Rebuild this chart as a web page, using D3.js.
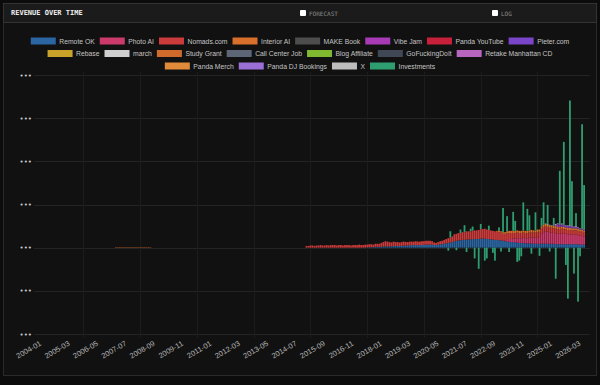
<!DOCTYPE html>
<html>
<head>
<meta charset="utf-8">
<script src="https://cdn.jsdelivr.net/npm/d3@7/dist/d3.min.js"></script>
<style>
  html, body { margin: 0; padding: 0; background: #0c0c0c; }
  svg { display: block; }
</style>
</head>
<body>
<div id="chart"></div>
<script>
// x axis runs monthly over this span
const firstMonth = '2004-01';
const lastMonth = '2026-05';
const tickLabels = ['2004-01', '2005-03', '2006-05', '2007-07', '2008-09', '2009-11', '2011-01', '2012-03',
  '2013-05', '2014-07', '2015-09', '2016-11', '2018-01', '2019-03', '2020-05', '2021-07', '2022-09',
  '2023-11', '2025-01', '2026-03'];
const yTicks = [-200, -100, 0, 100, 200, 300, 400];
const yLabel = '•••';

const seriesNames = ['Remote OK', 'Photo AI', 'Nomads.com', 'Interior AI', 'MAKE Book', 'Vibe Jam', 'Panda YouTube',
  'Pieter.com', 'Rebase', 'march', 'Study Grant', 'Call Center Job', 'Blog Affiliate', 'GoFuckingDoIt',
  'Retake Manhattan CD', 'Panda Merch', 'Panda DJ Bookings', 'X', 'Investments'];
const seriesColors = ['#2b66a2', '#cc3a6c', '#cc3b3b', '#d8702c', '#4d4d4d', '#a83ab5', '#c8203a', '#7a45c8',
  '#c9a22a', '#cfcfcf', '#d06a2c', '#5c6677', '#80b92f', '#3f4854', '#b865c0', '#e08a3a', '#9b6fd6',
  '#bdbdbd', '#2e9e70'];

// monthly values, each list begins at the month given in seriesStart
const remoteOK = [
  1, 1, 1, 1, 2, 2, 2,
  2, 3, 3, 3, 3, 3, 4, 4, 4, 4, 4, 5,
  5, 5, 5, 6, 6, 6, 6, 6, 6, 7, 7, 7,
  7, 7, 6, 6, 7, 8, 8, 9, 10, 11, 12, 13,
  15, 16, 17, 17, 18, 18, 19, 19, 19, 20, 20, 20,
  20, 21, 21, 21, 20, 20, 19, 19, 18, 18, 17, 17,
  16, 15, 14, 14, 13, 13, 12, 12, 11, 11, 11, 10,
  10, 10, 10, 9, 9, 9, 9, 9, 9, 9, 9, 9,
  9, 9, 8, 8, 8, 8, 8, 8, 8, 8, 8, 8,
  8, 8, 7, 7, 7];
const photoAI = [
  2, 4, 6, 7, 8, 9, 10, 11, 11, 12, 12,
  12, 13, 13, 14, 14, 15, 16, 24, 27, 28, 28, 27,
  26, 25, 25, 24, 24, 25, 24, 24, 23, 23, 22, 22,
  22, 21, 21, 20, 19];
const nomads = [
  4,
  4, 5, 5, 4, 5, 5, 6, 5, 5, 6, 5, 6,
  6, 6, 5, 6, 6, 5, 6, 6, 6, 5, 6, 6,
  6, 7, 6, 6, 7, 6, 7, 7, 6, 7, 7, 7,
  9, 10, 12, 11, 10, 9, 10, 9, 9, 8, 9, 9,
  8, 8, 9, 8, 8, 9, 8, 8, 9, 8, 9, 9,
  9, 8, 6, 5, 6, 7, 8, 9, 10, 11, 12, 13,
  16, 16, 17, 17, 18, 18, 19, 19, 19, 20, 20, 20,
  21, 22, 22, 23, 22, 21, 21, 20, 20, 19, 19, 18,
  16, 15, 15, 14, 14, 13, 13, 13, 12, 12, 12, 12,
  12, 12, 12, 12, 12, 12, 12, 11, 12, 12, 11, 11,
  11, 11, 11, 11, 10, 11, 11, 10, 10, 10, 10, 10,
  10, 10, 9, 10, 9];
const interiorAI = [
  2, 3, 3,
  4, 4, 5, 5, 5, 5, 5, 5, 5, 5, 5, 5,
  5, 5, 6, 5, 5, 6, 5, 5, 5, 6, 5, 5,
  5, 5, 6, 5, 5, 5, 5, 5, 5, 5, 5, 5,
  5, 5, 5, 5, 4];
const vibeJam = [3, 6, 4, 2];
const pieterCom = [2, 3, 3, 4, 4, 5, 4, 4, 3, 3, 3, 2, 2, 3];
const studyGrant = [1, 1, 1, 1, 1, 1, 1, 1, 1, 1, 1, 1, 1, 1, 1, 1, 1, 1];
const xCom = [1, 1, 2, 1, 1, 1, 2, 1, 1, 2, 1, 1, 1, 2, 1, 1, 2, 1, 1, 1, 1];
const investments = [
  -7, 14, 0, 0, -6, 0, 8, 0, 16, -10, 0, 6,
  9, -25, 0, -49, 12, 0, -30, -25, 10, 0, -12, -30,
  0, 8, -9, 56, 0, 35, -10, 0, 44, 23, -33, -30,
  -20, 65, 0, 51, 35, -14, 0, 42, 0, -19, 20, 51,
  0, 44, -9, 0, 18, -72, 0, 123, 0, 192, -40, -118,
  289, 104, -60, 30, -125, -20, 241, 102];

const seriesData = {
  'Remote OK': remoteOK, 'Photo AI': photoAI, 'Nomads.com': nomads, 'Interior AI': interiorAI,
  'Vibe Jam': vibeJam, 'Pieter.com': pieterCom, 'Study Grant': studyGrant, 'X': xCom, 'Investments': investments
};
const seriesStart = {
  'Remote OK': '2017-06', 'Photo AI': '2023-02', 'Nomads.com': '2014-12', 'Interior AI': '2022-10',
  'Vibe Jam': '2025-03', 'Pieter.com': '2025-04', 'Study Grant': '2007-02', 'X': '2024-09', 'Investments': '2020-10'
};

const W = 600, H = 385;
const svg = d3.select('#chart').append('svg').attr('width', W).attr('height', H);

// panel + header
svg.append('rect').attr('x', 3.5).attr('y', 3.5).attr('width', 593).attr('height', 372)
  .attr('fill', '#111').attr('stroke', '#2a2a2a');
svg.append('rect').attr('x', 3.5).attr('y', 3.5).attr('width', 593).attr('height', 19)
  .attr('fill', '#1b1b1b').attr('stroke', '#333');
svg.append('text').attr('x', 11).attr('y', 15).text('REVENUE OVER TIME')
  .attr('fill', '#f0f0f0').style('font', 'bold 7px "DejaVu Sans Mono", monospace');
[[300, 'FORECAST'], [492, 'LOG']].forEach(([x, t]) => {
  svg.append('rect').attr('x', x).attr('y', 10).attr('width', 6).attr('height', 6).attr('rx', 1).attr('fill', '#fff');
  svg.append('text').attr('x', x + 9).attr('y', 15.5).text(t)
    .attr('fill', '#8a8a8a').style('font', '6px "DejaVu Sans Mono", monospace');
});

// build monthly table
const parse = d3.timeParse('%Y-%m'), fmt = d3.timeFormat('%Y-%m');
const months = d3.timeMonth.range(parse(firstMonth), d3.timeMonth.offset(parse(lastMonth), 1)).map(fmt);
const monthIndex = new Map(months.map((m, i) => [m, i]));
const table = months.map(m => {
  const row = { month: m };
  seriesNames.forEach(k => { row[k] = 0; });
  return row;
});
Object.keys(seriesData).forEach(k => {
  const s = monthIndex.get(seriesStart[k]);
  seriesData[k].forEach((v, i) => { if (table[s + i]) table[s + i][k] = v; });
});

// scales
const x = d3.scaleBand().domain(months).range([40, 585]).paddingInner(0.12);
const y = d3.scaleLinear().domain([-200, 400]).range([334, 75]);
const color = d3.scaleOrdinal().domain(seriesNames).range(seriesColors);

// grid
const grid = svg.append('g').attr('class', 'grid');
grid.selectAll('line.h').data(yTicks).enter().append('line')
  .attr('x1', 34).attr('x2', 590)
  .attr('y1', d => Math.round(y(d)) + 0.5).attr('y2', d => Math.round(y(d)) + 0.5)
  .attr('stroke', '#242424');
const cx = m => x(m) + x.bandwidth() / 2;
const vGrid = d3.range(1, tickLabels.length - 1, 2).map(i => (cx(tickLabels[i]) + cx(tickLabels[i + 1])) / 2);
grid.selectAll('line.v').data(vGrid).enter().append('line')
  .attr('x1', d => Math.round(d) + 0.5).attr('x2', d => Math.round(d) + 0.5)
  .attr('y1', 72).attr('y2', 338).attr('stroke', '#1c1c1c');

// y labels
svg.append('g').selectAll('text').data(yTicks).enter().append('text')
  .attr('x', 32).attr('y', d => y(d) + 2.5).attr('text-anchor', 'end')
  .attr('fill', '#c8c8c8').style('font', '7px "DejaVu Sans", sans-serif')
  .text(yLabel);

// x labels
svg.append('g').selectAll('text').data(tickLabels).enter().append('text')
  .attr('transform', d => `translate(${cx(d) + 1}, 345) rotate(-30)`)
  .attr('text-anchor', 'end')
  .attr('fill', '#b4b4b4').style('font', '7.5px "Liberation Sans", Arial, sans-serif')
  .text(d => d);

// bars
const stacked = d3.stack().keys(seriesNames).offset(d3.stackOffsetDiverging)(table);
const bars = svg.append('g').attr('class', 'bars');
stacked.forEach(layer => {
  bars.append('g').attr('fill', color(layer.key))
    .selectAll('rect').data(layer.filter(d => d[0] !== d[1])).enter().append('rect')
    .attr('x', d => x(d.data.month))
    .attr('width', x.bandwidth())
    .attr('y', d => y(Math.max(d[0], d[1])))
    .attr('height', d => Math.abs(y(d[0]) - y(d[1])));
});

// legend, centred rows
const legend = svg.append('g').attr('class', 'legend');
const font = '6.8px "Liberation Sans", Arial, sans-serif';
const items = seriesNames.map(n => {
  const t = legend.append('text').text(n).style('font', font).attr('fill', '#c4c4c4');
  return { name: n, node: t, w: 25 + 3.5 + t.node().getComputedTextLength() };
});
const gap = 5;
const rows = [[]];
let rowW = 0;
items.forEach(it => {
  if (rowW + it.w > 560 && rows[rows.length - 1].length) { rows.push([]); rowW = 0; }
  rows[rows.length - 1].push(it);
  rowW += it.w + gap;
});
rows.forEach((row, r) => {
  const total = d3.sum(row, d => d.w) + gap * (row.length - 1);
  let xx = 300 - total / 2;
  const yy = 41 + r * 12.5;
  row.forEach(it => {
    legend.append('rect').attr('x', xx).attr('y', yy - 3.5).attr('width', 25).attr('height', 7)
      .attr('fill', color(it.name));
    it.node.attr('x', xx + 28.5).attr('y', yy + 2.5);
    xx += it.w + gap;
  });
});
</script>
</body>
</html>
